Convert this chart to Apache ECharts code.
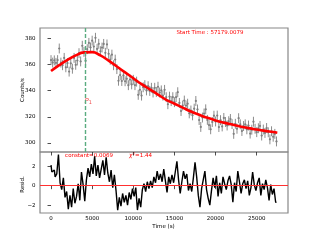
<!DOCTYPE html>
<html><head><meta charset="utf-8">
<script src="https://cdn.jsdelivr.net/npm/echarts@6/dist/echarts.min.js"></script>
<style>html,body{margin:0;padding:0;background:#fff}#c{width:320px;height:240px}</style>
</head><body><div id="c"></div>
<script>
// ---- data ----
const times = [0,200,400,600,800,1000,1200,1400,1600,1800,2000,2200,2400,2600,2800,3000,3200,3400,3600,3800,
4000,4200,4400,4600,4800,5000,5200,5400,5600,5800,6000,6200,6400,6600,6800,7000,7200,7400,7600,7800,
8000,8200,8400,8600,8800,9000,9200,9400,9600,9800,10000,10200,10400,10600,10800,11000,11200,11400,11600,11800,
12000,12200,12400,12600,12800,13000,13200,13400,13600,13800,14000,14200,14400,14600,14800,15000,15200,15400,15600,15800,
16000,16200,16400,16600,16800,17000,17200,17400,17600,17800,18000,18200,18400,18600,18800,19000,19200,19400,19600,19800,
20000,20200,20400,20600,20800,21000,21200,21400,21600,21800,22000,22200,22400,22600,22800,23000,23200,23400,23600,23800,
24000,24200,24400,24600,24800,25000,25200,25400,25600,25800,26000,26200,26400,26600,26800,27000,27200,27400];
const counts = [363.4,361.5,363.2,361.3,363.4,372.3,361.5,359.5,365.1,357.9,361.1,354.6,360.9,356.8,365.1,359.8,363.1,368.7,362.4,374.4,
369.7,362.9,371.8,376.6,373.1,378.3,373.8,380.5,372,375.9,370.2,373,375.8,369,375.4,368.2,363.7,367.6,359.5,363.8,
356.5,347.6,351.9,347.4,351.7,347.2,349.1,344.2,348.5,344.8,348.3,344.2,346.9,336.8,340.7,336.2,342.6,344.2,340.2,343.4,
339.8,342.2,338.6,342.2,339,343,338.6,340.2,336.2,340.6,335,329.6,335.4,332,335,331.2,335,338.8,330.6,324.4,
328.6,332.4,328.6,330,322.6,324.8,321.1,326.2,332.1,325.6,317.5,312.2,319.4,322.5,325.7,317.6,313.6,310.4,316,320.8,
316.4,320.9,312.1,317.4,312.6,319.1,316,313.3,316.6,318.3,314.4,306.9,314.6,310.8,318.9,314.2,309.1,312.9,314.2,310.4,
313.3,307.1,310.1,316.2,310.8,308.2,311.2,313,305.6,310.2,307.6,311.4,308.1,302.7,308.9,304.7,306.9,301.1];
const countErr = 3.8;
const binHalf = 100;
const resid = [2.1,1.4,1.6,0.9,1.2,3.2,0.3,-0.4,0.8,-1.2,-0.6,-2.4,-1.0,-2.2,-0.3,-1.8,-1.1,0.2,-1.5,1.4,
0.1,-1.6,0.6,1.8,0.9,2.2,1.2,3.0,1.0,2.1,0.8,1.7,2.6,1.1,2.9,1.3,0.4,1.6,-0.2,1.1,
-0.5,-2.5,-1.2,-2.1,-0.8,-1.7,-1.0,-2.0,-0.7,-1.4,-0.3,-1.1,-0.2,-2.5,-1.3,-2.2,-0.4,0.2,-0.6,0.4,
-0.3,0.5,-0.2,0.9,0.3,1.5,0.6,1.2,0.4,1.7,0.5,-0.7,0.9,0.2,1.1,0.3,1.4,2.5,0.6,-0.8,
0.4,1.5,0.7,1.2,-0.5,0.2,-0.6,0.8,2.4,0.9,-1.0,-2.2,-0.3,0.6,1.5,-0.4,-1.3,-2.0,-0.5,0.8,
-0.2,1.0,-1.1,0.3,-0.8,0.9,0.2,-0.4,0.5,1.0,0.1,-1.7,0.3,-0.6,1.5,0.4,-0.8,0.2,0.6,-0.3,
0.5,-1.0,-0.2,1.4,0.1,-0.5,0.3,0.8,-1.0,0.2,-0.4,0.6,-0.2,-1.5,0.1,-0.9,-0.3,-1.7];
const fitTimes = [0,1000,2000,3000,4000,5000,6000,7000,8000,9000,10000,11000,12000,13000,14000,15000,16000,17000,18000,19000,20000,21000,22000,23000,24000,25000,26000,27000,27500];
const fitCounts = [355,359.5,363.5,367,369.3,369.5,367,363,358.5,354,349.5,345,341,337,333,330,327,324,321.5,319.2,317.2,315.5,314,312.6,311.3,310.2,309.2,308.3,307.8];
const peakTime = 4150;
const xTicks = [0,5000,10000,15000,20000,25000];
const countTicks = [300,320,340,360,380];
const residTicks = [-2,0,2];

// ---- chart ----
const FONT = 'DejaVu Sans';
const xMin = -1340, xMax = 28800;
const chart = echarts.init(document.getElementById('c'));
const tickStyle = {color:'#222', width:0.8};
const minusFmt = v => String(v).replace('-', '\u2212');
function xAx(idx, labels){
  return {gridIndex:idx, type:'value', min:xMin, max:xMax,
    axisLine:{show:false}, splitLine:{show:false},
    axisTick:{show:true, length:3.5, customValues:xTicks, lineStyle:tickStyle},
    axisLabel:{show:labels, customValues:xTicks, fontSize:5.5, margin:2.5, color:'#000', fontFamily:FONT, formatter:minusFmt}};
}
function yAx(idx, mn, mx, ticks){
  return {gridIndex:idx, type:'value', min:mn, max:mx,
    axisLine:{show:false}, splitLine:{show:false},
    axisTick:{show:true, length:3.5, customValues:ticks, lineStyle:tickStyle},
    axisLabel:{show:true, customValues:ticks, fontSize:5.5, margin:4.5, color:'#000', fontFamily:FONT, formatter:minusFmt}};
}
const red = '#ff0000';
const option = {
  animation:false,
  textStyle:{fontFamily:FONT},
  grid:[
    {left:40, top:28, right:32, height:124, show:true, borderColor:'#888', borderWidth:1.2},
    {left:40, top:152, right:32, height:61, show:true, borderColor:'#888', borderWidth:1.2}
  ],
  xAxis:[xAx(0,false), xAx(1,true)],
  yAxis:[yAx(0,293,388,countTicks), yAx(1,-2.8,3.45,residTicks)],
  series:[
    {type:'custom', xAxisIndex:0, yAxisIndex:0, silent:true,
     data: times.map((t,i)=>[t, counts[i]-countErr, counts[i]+countErr, counts[i]]),
     encode:{x:0, y:[1,2]},
     renderItem:(p,api)=>{
       const t = api.value(0), c = api.value(3);
       const a = api.coord([t, api.value(1)]);
       const b = api.coord([t, api.value(2)]);
       const l = api.coord([t-binHalf, c]);
       const r = api.coord([t+binHalf, c]);
       return {type:'group', children:[
         {type:'line', shape:{x1:a[0],y1:a[1],x2:b[0],y2:b[1]}, style:{stroke:'#8c8c8c', lineWidth:1}},
         {type:'line', shape:{x1:l[0],y1:l[1],x2:r[0],y2:r[1]}, style:{stroke:'#8c8c8c', lineWidth:1}}
       ]};
     }},
    {type:'scatter', xAxisIndex:0, yAxisIndex:0, symbol:'circle', symbolSize:2.2,
     itemStyle:{color:'#7a7a7a'}, data: times.map((t,i)=>[t, counts[i]]),
     markLine:{silent:true, symbol:'none', label:{show:false},
       lineStyle:{color:'#5aac80', type:[4,2], width:1.4},
       data:[{xAxis:peakTime}]}},
    {type:'line', xAxisIndex:0, yAxisIndex:0, smooth:true, showSymbol:false,
     lineStyle:{color:red, width:2.6}, data: fitTimes.map((t,i)=>[t, fitCounts[i]])},
    {type:'line', xAxisIndex:1, yAxisIndex:1, showSymbol:false, step:'middle',
     lineStyle:{color:'#000', width:1.4}, data: times.map((t,i)=>[t, resid[i]]),
     markLine:{silent:true, symbol:'none', label:{show:false},
       lineStyle:{color:'#ff3030', type:'solid', width:1.1}, data:[{yAxis:0}]}}
  ],
  graphic:[
    {type:'text', style:{text:'Start Time : 57179.0079', x:210, y:33, align:'center', verticalAlign:'middle', fill:red, font:'5.5px "DejaVu Sans"'}},
    {type:'text', style:{text:'{p|P}{s|1}', x:84.5, y:101, verticalAlign:'middle',
       rich:{p:{fontSize:7, fontStyle:'italic', fill:'#f05050', fontFamily:FONT}, s:{fontSize:5, fill:'#f05050', fontFamily:FONT, padding:[3,0,0,0]}}}},
    {type:'text', style:{text:'constant=0.0069', x:89, y:155.5, align:'center', verticalAlign:'middle', fill:red, font:'5.5px "DejaVu Sans"'}},
    {type:'text', style:{text:'{c|\u03c7}{s|2}{n|=1.44}', x:129, y:155.5, verticalAlign:'middle',
       rich:{c:{fontSize:6, fontStyle:'italic', fill:red, fontFamily:FONT}, s:{fontSize:4, fill:red, fontFamily:FONT, padding:[0,0,3,0]}, n:{fontSize:5.5, fill:red, fontFamily:FONT}}}},
    {type:'text', rotation:Math.PI/2, x:23, y:90, style:{text:'Counts/s', align:'center', verticalAlign:'middle', fill:'#000', font:'5.5px "DejaVu Sans"'}},
    {type:'text', rotation:Math.PI/2, x:23, y:184.5, style:{text:'Resid.', align:'center', verticalAlign:'middle', fill:'#000', font:'5.5px "DejaVu Sans"'}},
    {type:'text', style:{text:'Time (s)', x:163.5, y:226.5, align:'center', verticalAlign:'middle', fill:'#000', font:'5.5px "DejaVu Sans"'}}
  ]
};
chart.setOption(option);
</script>
</body></html>
